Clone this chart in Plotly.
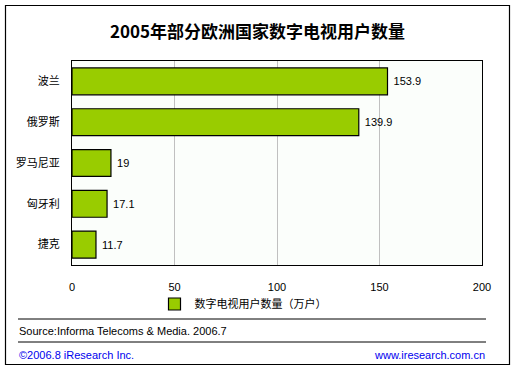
import plotly.graph_objects as go

categories = ["波兰", "俄罗斯", "罗马尼亚", "匈牙利", "捷克"]
values = [153.9, 139.9, 19, 17.1, 11.7]
value_labels = ["153.9", "139.9", "19", "17.1", "11.7"]
series_name = "数字电视用户数量（万户）"
title = "2005年部分欧洲国家数字电视用户数量"
source = "Source:Informa Telecoms & Media. 2006.7"
copyright_txt = "©2006.8 iResearch Inc."
website = "www.iresearch.com.cn"

W, H = 516, 371
L, R, T, B = 72, 482, 61, 265

def px(x):
    return (x - L) / (R - L)

def py(y):
    return (B - y) / (B - T)

font = "'Liberation Sans', Arial, sans-serif"
cjk = "'Noto Sans CJK SC', 'Noto Sans', sans-serif"

fig = go.Figure()
fig.add_trace(go.Bar(
    y=categories, x=values, orientation="h",
    name=series_name,
    marker=dict(color="#99cc00", line=dict(color="#000000", width=1.2)),
    width=0.66,
    text=value_labels, texttemplate="&nbsp;%{text}", textposition="outside",
    textfont=dict(size=11, color="#000000", family=font),
    cliponaxis=False,
))

fig.update_layout(
    width=W, height=H,
    margin=dict(l=L, r=W - R, t=T, b=H - B),
    paper_bgcolor="#ffffff",
    plot_bgcolor="#fbfefb",
    showlegend=True,
    legend=dict(orientation="h", x=px(243), y=py(304), xanchor="center", yanchor="middle",
                font=dict(size=11, family=cjk, color="#000000"),
                bgcolor="rgba(0,0,0,0)"),
    xaxis=dict(range=[0, 200], tickvals=[0, 50, 100, 150, 200],
               showgrid=True, gridcolor="#c0c0c0", gridwidth=1,
               showline=True, linecolor="#000000", linewidth=1, mirror=True,
               zeroline=False, ticks="", ticklabelstandoff=12,
               tickfont=dict(size=11, family=font, color="#000000"), fixedrange=True),
    yaxis=dict(autorange="reversed", showline=True, linecolor="#000000", linewidth=1,
               mirror=True, ticks="", ticklabelstandoff=9,
               tickfont=dict(size=11, family=cjk, color="#000000"), fixedrange=True),
    font=dict(family=cjk),
)

# outer border
fig.add_shape(type="rect", xref="paper", yref="paper",
              x0=px(5.5), x1=px(509.5), y0=py(364.5), y1=py(5.5),
              line=dict(color="#000000", width=1.2))
# separator lines
for yy in (319, 342):
    fig.add_shape(type="line", xref="paper", yref="paper",
                  x0=px(18), x1=px(486), y0=py(yy), y1=py(yy),
                  line=dict(color="#000000", width=1))

fig.add_annotation(text=f"<b>{title}</b>", xref="paper", yref="paper",
                   x=px(257), y=py(30), showarrow=False, xanchor="center", yanchor="middle",
                   font=dict(size=17, family=cjk, color="#000000"))
fig.add_annotation(text=source, xref="paper", yref="paper",
                   x=px(17), y=py(331), showarrow=False, xanchor="left", yanchor="middle",
                   font=dict(size=11, family=font, color="#000000"))
fig.add_annotation(text=copyright_txt, xref="paper", yref="paper",
                   x=px(17), y=py(355), showarrow=False, xanchor="left", yanchor="middle",
                   font=dict(size=11, family=font, color="#0000ee"))
fig.add_annotation(text=website, xref="paper", yref="paper",
                   x=px(487), y=py(355), showarrow=False, xanchor="right", yanchor="middle",
                   font=dict(size=11, family=font, color="#0000ee"))

fig.write_html("out.html", config={"displayModeBar": False},
               post_script="document.body.style.margin='0';")
